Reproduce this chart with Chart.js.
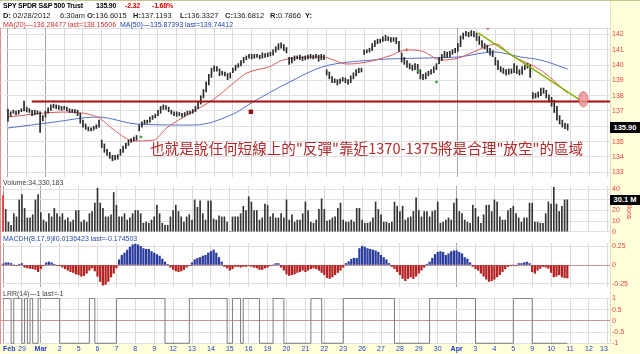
<!DOCTYPE html>
<html>
<head>
<meta charset="utf-8">
<title>SPY SPDR S&amp;P 500 Trust</title>
<script src="https://cdn.jsdelivr.net/npm/chart.js@4.4.1/dist/chart.umd.min.js"></script>
<style>
  html, body { margin: 0; padding: 0; background: #fff; }
  #wrap { position: relative; width: 640px; height: 354px; overflow: hidden; background: #fff;
          font-family: 'Liberation Sans', Arial, sans-serif; }
  #wrap canvas { position: absolute; left: 0; top: 0; }
  .t { position: absolute; white-space: pre; line-height: 1; }
  .rpanel { position: absolute; left: 610px; top: 0; width: 30px; height: 354px; background: #ffffdc;
            border-left: 1px solid #e4e4b4; box-sizing: border-box; }
  .bstrip { position: absolute; left: 0; top: 344px; width: 640px; height: 10px; background: #ffffdc; }
  .topline { position: absolute; left: 0; top: 0; width: 640px; height: 1px; background: #c6c68e; }
  .cursor { position: absolute; left: 0; top: 28px; width: 1px; height: 316px; background: #f08c8c; }
  .plotTop { position: absolute; left: 0; top: 28px; width: 610px; height: 1px; background: #dcdcdc; }
  .box { position: absolute; left: 610px; width: 30px; background: #000; color: #fff; font-weight: bold;
         font-size: 7.5px; line-height: 11px; text-align: center; }
  .h1 { font-size: 7px; font-weight: bold; letter-spacing: -0.2px; top: 2px; }
  .h2 { font-size: 7.5px; top: 12px; color: #222; }
  .h3 { font-size: 7px; top: 21px; }
  .lbl { font-size: 7px; color: #404040; }
  .note { position: absolute; left: 150px; top: 139px; white-space: pre; font-size: 14.6px; line-height: 18px;
          color: #b22a2a; font-family: 'Noto Sans CJK TC', 'Noto Sans CJK SC', sans-serif; }
</style>
</head>
<body>
<div id="wrap">
  <div class="rpanel"></div>
  <div class="bstrip"></div>
  <div class="topline"></div>
  <div class="plotTop"></div>
  <canvas id="priceChart" width="640" height="354"></canvas>
  <canvas id="volumeChart" width="640" height="354"></canvas>
  <canvas id="macdChart" width="640" height="354"></canvas>
  <canvas id="lrrChart" width="640" height="354"></canvas>
  <div class="cursor"></div>

  <!-- intestazione -->
  <span class="t h1" style="left:3px">SPY SPDR S&amp;P 500 Trust</span>
  <span class="t h1" style="left:96px">135.90</span>
  <span class="t h1" style="left:125px;color:#e00000">-2.32</span>
  <span class="t h1" style="left:152px;color:#e00000">-1.68%</span>

  <span class="t h2" style="left:3px"><b>D:</b> 02/28/2012</span>
  <span class="t h2" style="left:60px">6:30am</span>
  <span class="t h2" style="left:87px"><b>O:</b>136.6015</span>
  <span class="t h2" style="left:133px"><b>H:</b>137.1193</span>
  <span class="t h2" style="left:180px"><b>L:</b>136.3327</span>
  <span class="t h2" style="left:225px"><b>C:</b>136.6812</span>
  <span class="t h2" style="left:270px"><b>R:</b>0.7866</span>
  <span class="t h2" style="left:305px"><b>Y:</b></span>

  <span class="t h3" style="left:3px;color:#d03030">MA(20)—136.28477 last=138.15606</span>
  <span class="t h3" style="left:120px;color:#2040b0">MA(50)—135.87393 last=139.74412</span>

  <span class="t lbl" style="left:3px;top:179px">Volume:34,330,183</span>
  <span class="t lbl" style="left:3px;top:235px;color:#2a4ab0">MACDH(8,17,9)ǁ0.0136423 last=-0.174503</span>
  <span class="t lbl" style="left:3px;top:290px">LRR(14)—1 last=-1</span>

  <div class="note">也就是說任何短線上的"反彈"靠近1370-1375將是合理"放空"的區域</div>

  <span class="t" style="left:633px;top:196px;font-size:7px;color:#f03c3c;transform:rotate(90deg);transform-origin:left top">Millions</span>
  <div class="box" style="top:122px">135.90</div>
  <div class="box" style="top:195px;height:10px;line-height:10px">30.1 M</div>
</div>

<script>
// etichette dei giorni (asse x), indice = giorno di borsa
const dayLabels = ['Feb', '29', 'Mar', '2', '5', '6', '7', '8', '9', '12', '13', '14', '15', '16', '19', '20', '21',
                   '22', '23', '26', '27', '28', '29', '30', 'Apr', '3', '4', '5', '9', '10', '11', '12', '13'];
const monthIdx = [0, 2, 24];

const priceTicks = [133, 134, 135, 136, 137, 138, 139, 140, 141, 142];
const volumeTicks = [0, 10, 20, 30, 40];
const macdTicks = [-0.25, 0, 0.25];
const lrrTicks = [-1, -0.5, 0, 0.5, 1];

// barre orarie, 7 per giorno
const priceLow = [
  136.33, 136.65, 136.85, 136.75, 136.8, 136.95, 137.0,
  136.95, 136.9, 136.7, 136.75, 136.8, 135.6, 136.35,
  136.6, 136.85, 137.05, 137.2, 137.15, 137.1, 137.05,
  137.1, 137.0, 136.9, 136.9, 136.85, 136.7, 136.2,
  135.95, 135.8, 135.7, 135.7, 135.75, 135.85, 135.95,
  134.6, 134.3, 134.1, 133.9, 133.75, 133.8, 133.85,
  134.1, 134.3, 134.55, 134.75, 134.95, 135.05, 135.1,
  135.7, 135.95, 136.15, 136.2, 136.25, 136.45, 136.55,
  136.7, 136.85, 137.1, 137.1, 136.95, 136.8, 136.7,
  136.65, 136.7, 136.6, 136.65, 136.75, 136.8, 136.85,
  136.95, 137.15, 137.45, 137.85, 138.25, 138.7, 139.2,
  139.6, 139.6, 139.3, 139.35, 139.3, 139.05, 139.15,
  139.5, 139.65, 139.85, 139.95, 140.15, 140.35, 140.45,
  140.4, 140.45, 140.5, 140.4, 140.45, 140.5, 140.55,
  140.6, 140.65, 140.85, 141.0, 141.1, 140.95, 140.8,
  140.05, 140.15, 140.3, 140.4, 140.35, 140.3, 140.35,
  140.4, 140.45, 140.4, 140.45, 140.25, 140.35, 140.35,
  139.35, 139.1, 138.85, 138.85, 138.7, 138.8, 138.95,
  138.85, 138.75, 138.85, 139.1, 139.3, 139.5, 139.55,
  140.7, 140.8, 140.85, 140.95, 141.2, 141.4, 141.45,
  141.55, 141.6, 141.6, 141.5, 141.55, 141.4, 140.9,
  140.2, 140.05, 139.85, 139.75, 139.65, 139.7, 139.45,
  139.1, 139.05, 139.1, 139.3, 139.4, 139.5, 139.7,
  140.1, 140.3, 140.5, 140.5, 140.55, 140.7, 140.8,
  140.9, 141.2, 141.7, 141.9, 141.85, 141.9, 141.85,
  141.6, 141.35, 141.15, 141.05, 140.85, 140.65, 140.55,
  140.0, 139.7, 139.55, 139.45, 139.35, 139.4, 139.45,
  139.5, 139.45, 139.35, 139.4, 139.7, 139.8, 139.2,
  137.8, 137.85, 137.9, 138.0, 138.15, 137.85, 137.6,
  137.3, 136.9, 136.4, 136.15, 135.95, 135.85, 135.75
];
const priceHigh = [
  137.12, 136.95, 137.05, 137.0, 137.05, 137.15, 137.65,
  137.25, 137.15, 137.05, 137.05, 137.0, 136.95, 136.7,
  137.0, 137.2, 137.4, 137.45, 137.4, 137.35, 137.3,
  137.3, 137.25, 137.15, 137.1, 137.1, 137.05, 136.85,
  136.4, 136.15, 135.95, 135.9, 136.0, 136.1, 136.4,
  135.1, 134.85, 134.5, 134.3, 134.1, 134.1, 134.15,
  134.5, 134.7, 134.9, 135.1, 135.2, 135.3, 135.4,
  136.1, 136.3, 136.4, 136.4, 136.6, 136.7, 136.8,
  137.05, 137.3, 137.4, 137.35, 137.25, 137.05, 136.95,
  136.95, 136.9, 136.85, 136.9, 137.0, 137.0, 137.1,
  137.3, 137.6, 138.0, 138.4, 138.9, 139.4, 139.8,
  139.95, 139.9, 139.75, 139.6, 139.55, 139.45, 139.5,
  139.8, 140.0, 140.1, 140.3, 140.5, 140.6, 140.7,
  140.7, 140.7, 140.7, 140.65, 140.8, 140.75, 140.8,
  140.85, 141.0, 141.2, 141.4, 141.45, 141.35, 141.15,
  140.5, 140.5, 140.6, 140.6, 140.65, 140.55, 140.6,
  140.65, 140.7, 140.65, 140.7, 140.65, 140.7, 140.65,
  139.7, 139.55, 139.25, 139.1, 139.05, 139.1, 139.2,
  139.15, 139.05, 139.3, 139.5, 139.7, 139.8, 139.8,
  141.0, 141.0, 141.1, 141.4, 141.6, 141.7, 141.7,
  141.85, 141.95, 141.85, 141.8, 141.8, 141.8, 141.55,
  140.8, 140.5, 140.3, 140.1, 140.0, 140.1, 140.05,
  139.7, 139.4, 139.5, 139.6, 139.7, 139.9, 140.1,
  140.5, 140.7, 140.9, 140.85, 140.9, 141.0, 141.1,
  141.4, 141.9, 142.1, 142.2, 142.15, 142.25, 142.2,
  142.1, 141.9, 141.6, 141.4, 141.3, 141.1, 140.95,
  140.5, 140.3, 139.9, 139.8, 139.7, 139.75, 139.75,
  140.1, 139.95, 139.7, 139.9, 140.0, 140.1, 140.0,
  138.2, 138.15, 138.25, 138.5, 138.5, 138.35, 138.05,
  137.9, 137.7, 137.3, 136.7, 136.4, 136.2, 136.15
];

// medie mobili (x in giorni)
const ma20Day = [0, 2.86, 4.76, 5.66, 6.72, 7.78, 8.47, 9.74, 10.95, 12.01, 12.7, 13.97, 14.66, 16.77, 18.1,
                 19.15, 20.32, 21.27, 22.06, 23.12, 24.02, 25.08, 26.03, 26.83, 28.41, 29.1, 29.86];
const ma20Val = [136.61, 136.93, 136.61, 135.76, 135.04, 135.1, 135.89, 136.87, 137.75, 138.8, 139.46, 139.9,
                 140.33, 140.53, 140.07, 140.2, 140.59, 140.99, 140.92, 140.33, 140.46, 140.99, 141.38, 140.66,
                 139.68, 139.0, 138.16];
const ma50Day = [0, 2.49, 4.76, 6.88, 9.89, 12.01, 13.07, 15.03, 16.77, 19.42, 22.06, 24.02, 25.93, 27.35, 28.41, 29.86];
const ma50Val = [135.89, 136.28, 136.61, 136.15, 136.08, 136.8, 137.59, 138.9, 139.88, 140.33, 140.46, 140.53,
                 140.86, 140.53, 140.33, 139.74];

// linee disegnate a mano sul grafico
const resistanceDay = [1.27, 32.2];
const resistanceVal = [137.62, 137.62];
const trendDay = [25.08, 30.5];
const trendVal = [142.1, 137.72];
const targetDay = [30.69];
const targetVal = [137.78];
const signalDay = [12.96];
const signalVal = [136.95];
const greenMarkDay = [7.1, 21.9, 22.86];
const greenMarkVal = [135.3, 139.6, 138.9];
const redMarkDay = [21.27, 25.6];
const redMarkVal = [141.0, 142.4];

// volume in milioni
const volume = [
  34.3, 21, 9, 6, 17, 14, 30,
  35, 22, 13, 13, 16, 30, 35,
  18, 11, 9, 17, 14, 22, 17,
  14, 17, 11, 13, 9, 11, 20,
  20, 9, 11, 9, 17, 19, 27,
  41, 27, 22, 14, 14, 16, 37,
  25, 14, 14, 17, 11, 13, 17,
  20, 20, 17, 8, 9, 8, 11,
  14, 25, 17, 8, 6, 6, 14,
  20, 25, 19, 14, 9, 14, 16,
  11, 30, 23, 29, 17, 11, 29,
  29, 12, 11, 15, 14, 14, 9,
  0, 14, 14, 14, 17, 24, 20,
  33, 28, 20, 20, 11, 13, 26,
  25, 14, 17, 13, 13, 17, 13,
  30, 11, 16, 9, 11, 11, 17,
  28, 20, 9, 8, 11, 21, 31,
  21, 10, 11, 13, 14, 22, 27,
  11, 9, 9, 11, 9, 22, 22,
  11, 8, 8, 9, 13, 28, 21,
  16, 9, 9, 8, 9, 28, 24,
  19, 24, 11, 13, 14, 19, 32,
  20, 14, 19, 19, 14, 19, 20,
  28, 8, 9, 11, 13, 11, 27,
  31, 19, 17, 11, 9, 8, 25,
  22, 14, 8, 16, 25, 25, 19,
  30, 28, 14, 11, 11, 20, 22,
  24, 17, 13, 9, 13, 13, 27,
  27, 9, 9, 8, 8, 17, 28,
  26, 42, 26, 19, 24, 30, 30.1
];

const macdHist = [
  0.014, 0.03, 0.03, 0.02, 0.0, -0.005, 0.01,
  0.02, -0.03, -0.04, -0.045, -0.05, -0.06, -0.09,
  -0.05, -0.01, 0.03, 0.04, 0.03, 0.01, -0.005,
  -0.01, -0.03, -0.05, -0.07, -0.09, -0.1, -0.12,
  -0.13, -0.15, -0.14, -0.11, -0.07, -0.04, -0.08,
  -0.15, -0.22, -0.27, -0.26, -0.22, -0.16, -0.11,
  -0.04, 0.07, 0.13, 0.16, 0.2, 0.24, 0.27,
  0.28, 0.27, 0.25, 0.22, 0.21, 0.21, 0.18,
  0.16, 0.14, 0.12, 0.08, 0.04, 0.01, -0.03,
  -0.06, -0.08, -0.09, -0.08, -0.06, -0.03, -0.01,
  0.03, 0.07, 0.09, 0.1, 0.12, 0.13, 0.16,
  0.18, 0.2, 0.16, 0.1, 0.04, -0.02, -0.04,
  -0.07, -0.05, -0.02, -0.02, -0.03, -0.02, -0.02,
  -0.01, -0.02, -0.03, -0.04, -0.06, -0.06, -0.04,
  -0.03, -0.01, 0.0, 0.02, 0.02, -0.03, -0.07,
  -0.12, -0.14, -0.13, -0.12, -0.1, -0.09, -0.07,
  -0.09, -0.07, -0.05, -0.04, -0.05, -0.07, -0.1,
  -0.13, -0.17, -0.18, -0.16, -0.13, -0.1, -0.07,
  -0.03, 0.02, 0.045, 0.076, 0.09, 0.09, 0.22,
  0.25, 0.24, 0.22, 0.21, 0.2, 0.19, 0.17,
  0.13, 0.1, 0.07, 0.02, -0.02, -0.05, -0.09,
  -0.13, -0.18, -0.21, -0.18, -0.16, -0.18, -0.15,
  -0.11, -0.07, -0.03, 0.01, 0.04, 0.09, 0.14,
  0.17, 0.18, 0.17, 0.13, 0.15, 0.18, 0.19,
  0.19, 0.17, 0.15, 0.1, 0.08, 0.03, -0.02,
  -0.05, -0.07, -0.11, -0.15, -0.19, -0.22, -0.21,
  -0.19, -0.16, -0.13, -0.09, -0.05, -0.02, -0.01,
  0.0, -0.01, 0.02, 0.02, 0.03, 0.04, 0.02,
  -0.09, -0.11, -0.07, -0.045, -0.02, -0.03, -0.045,
  -0.1, -0.16, -0.15, -0.13, -0.16, -0.17, -0.1745
];

// LRR: inizio di ogni tratto (giorni) e valore del tratto
const lrrDay = [0, 0.43, 0.57, 1.0, 1.14, 1.29, 1.43, 1.57, 1.86, 3.0, 4.57, 4.86, 6.0, 8.57, 9.86, 11.86,
                12.14, 12.57, 12.71, 13.57, 14.29, 14.86, 16.29, 16.86, 18.0, 20.71, 22.57, 25.0, 27.0, 28.0, 29.86];
const lrrVal = [1, -1, 1, -1, 1, -1, 1, -1, 1, -1, 1, -1, 1, -1, 1, -1,
                1, -1, 1, -1, 1, -1, 1, -1, 1, -1, 1, -1, 1, -1, -1];

const FONT = "'Liberation Sans', Arial, sans-serif";
const X_MIN = -0.159, X_MAX = 32.116;
const AXIS_RED = '#f03c3c';
const GRID = '#e0e0e0';

const barX = i => Math.floor(i / 7) + (i % 7) / 7;
const pts = (xs, ys) => xs.map((x, i) => ({ x: x, y: ys[i] }));

function xAxis(showDays) {
    return {
        type: 'linear', min: X_MIN, max: X_MAX, offset: false, bounds: 'data',
        afterBuildTicks: s => { s.ticks = dayLabels.map((d, i) => ({ value: i })); },
        afterFit: s => { s.paddingLeft = 0; s.paddingRight = 0; s.height = showDays ? 10 : 0; },
        grid: { offset: false, drawTicks: false, color: c => monthIdx.includes(c.index) ? '#a4a4a4' : '#dadada' },
        border: { display: false },
        ticks: {
            display: showDays, autoSkip: false, maxRotation: 0, align: 'inner', padding: 1,
            color: '#1f3fc4',
            callback: (v, i) => dayLabels[i],
            font: c => ({ family: FONT, size: 7, weight: monthIdx.includes(c.index) ? 'bold' : 'normal' })
        }
    };
}

function yAxis(min, max, tickList, zeroColor) {
    return {
        position: 'right', min: min, max: max,
        afterBuildTicks: s => { s.ticks = tickList.map(v => ({ value: v })); },
        afterFit: s => { s.width = 30; s.paddingTop = 0; s.paddingBottom = 0; },
        grid: { drawTicks: false, color: c => (zeroColor && c.tick && c.tick.value === 0) ? zeroColor : GRID },
        border: { display: false },
        ticks: { padding: 2, color: AXIS_RED, font: { family: FONT, size: 7 }, callback: v => String(v) }
    };
}

function makeChart(id, padTop, padBottom, showDays, yOpts, datasets) {
    return new Chart(document.getElementById(id), {
        type: 'bar',
        data: { datasets: datasets },
        options: {
            responsive: false, animation: false, devicePixelRatio: 1, events: [],
            layout: { padding: { top: padTop, bottom: padBottom, left: 0, right: 0 } },
            plugins: { legend: { display: false }, tooltip: { enabled: false } },
            scales: { x: xAxis(showDays), y: yOpts }
        }
    });
}

// cerchio rosa del bersaglio
const ellipse = document.createElement('canvas');
ellipse.width = 11; ellipse.height = 17;
const ec = ellipse.getContext('2d');
ec.beginPath();
ec.ellipse(5.5, 8.5, 4.5, 7.5, 0, 0, Math.PI * 2);
ec.fillStyle = 'rgba(236,150,150,0.85)';
ec.fill();
ec.strokeStyle = '#d06a6a';
ec.lineWidth = 1;
ec.stroke();

// prezzo
makeChart('priceChart', 28, 177, false, yAxis(132.686, 142.425, priceTicks, null), [
    { type: 'line', data: pts(targetDay, targetVal), showLine: false, pointStyle: ellipse, order: -2 },
    { type: 'line', data: pts(signalDay, signalVal), showLine: false, pointStyle: 'rect', pointRadius: 2.5,
      backgroundColor: '#8a1010', borderColor: '#8a1010', order: -1 },
    { type: 'line', data: pts(greenMarkDay, greenMarkVal), showLine: false, pointRadius: 1,
      backgroundColor: '#3da03d', borderColor: '#3da03d', order: -1 },
    { type: 'line', data: pts(redMarkDay, redMarkVal), showLine: false, pointRadius: 1,
      backgroundColor: '#e06060', borderColor: '#e06060', order: -1 },
    { type: 'line', data: pts(resistanceDay, resistanceVal), borderColor: '#a30e0e', borderWidth: 2,
      pointRadius: 0, order: 0 },
    { type: 'line', data: pts(trendDay, trendVal), borderColor: '#86b400', borderWidth: 1.5,
      pointRadius: 0, order: 0 },
    { type: 'bar', data: priceLow.map((lo, i) => ({ x: barX(i), y: [lo, priceHigh[i]] })),
      backgroundColor: '#2a2a2a', barThickness: 1, order: 1 },
    { type: 'line', data: pts(ma20Day, ma20Val), borderColor: '#dc5a5a', borderWidth: 1,
      pointRadius: 0, cubicInterpolationMode: 'monotone', order: 2 },
    { type: 'line', data: pts(ma50Day, ma50Val), borderColor: '#5470cc', borderWidth: 1,
      pointRadius: 0, cubicInterpolationMode: 'monotone', order: 2 }
]);

// volume
makeChart('volumeChart', 186, 122, false, yAxis(-0.28, 43.1, volumeTicks, null), [
    { type: 'bar', data: volume.map((v, i) => ({ x: barX(i), y: v })), barThickness: 1,
      backgroundColor: c => c.dataIndex === 0 ? '#e03030' : '#333333' }
]);

// MACD istogramma
makeChart('macdChart', 243, 67, false, yAxis(-0.294, 0.294, macdTicks, '#c89494'), [
    { type: 'bar', data: macdHist.map((v, i) => ({ x: barX(i), y: v })), barThickness: 1.6,
      backgroundColor: c => (c.raw && c.raw.y >= 0) ? '#2c3c9c' : '#b42222' }
]);

// LRR
makeChart('lrrChart', 298, 0, true, yAxis(-1.031, 1.018, lrrTicks, '#c89494'), [
    { type: 'line', data: pts(lrrDay, lrrVal), stepped: true, borderColor: '#7c7c7c', borderWidth: 1,
      pointRadius: 0 }
]);
</script>
</body>
</html>
